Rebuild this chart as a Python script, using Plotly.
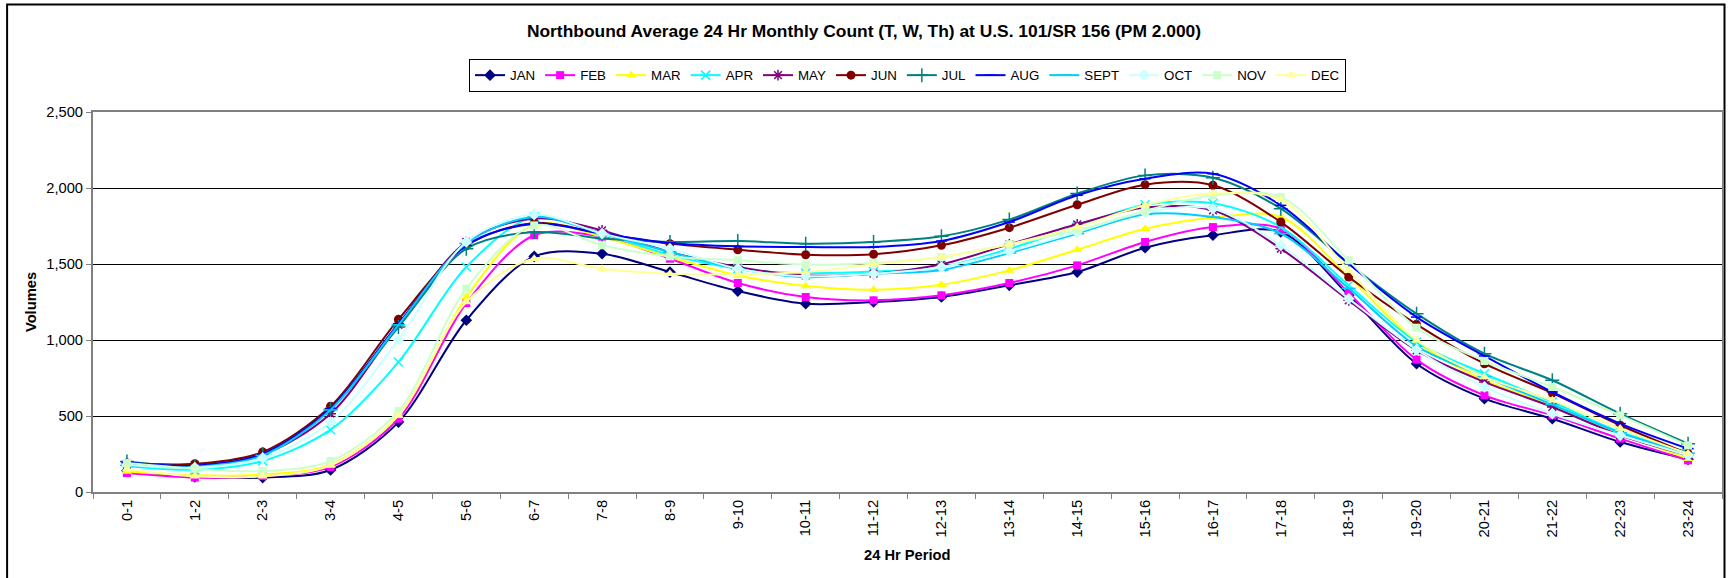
import plotly.graph_objects as go

periods = ["0-1", "1-2", "2-3", "3-4", "4-5", "5-6", "6-7", "7-8", "8-9", "9-10", "10-11", "11-12",
           "12-13", "13-14", "14-15", "15-16", "16-17", "17-18", "18-19", "19-20", "20-21", "21-22",
           "22-23", "23-24"]

jan = [140, 100, 95, 145, 460, 1130, 1550, 1568, 1447, 1322, 1239, 1250, 1283, 1360, 1447, 1607, 1689, 1711, 1294, 844, 614, 482, 329, 215]
feb = [125, 95, 105, 165, 482, 1243, 1689, 1680, 1535, 1375, 1283, 1261, 1294, 1375, 1491, 1645, 1743, 1732, 1309, 871, 636, 504, 351, 208]
mar = [135, 110, 115, 180, 504, 1283, 1760, 1678, 1546, 1425, 1355, 1331, 1364, 1458, 1594, 1732, 1805, 1809, 1414, 987, 735, 570, 384, 219]
apr = [170, 147, 204, 410, 855, 1480, 1810, 1700, 1560, 1469, 1440, 1450, 1480, 1600, 1748, 1890, 1900, 1743, 1360, 987, 778, 592, 395, 263]
may = [185, 175, 245, 515, 1100, 1645, 1800, 1721, 1579, 1480, 1425, 1436, 1498, 1629, 1761, 1871, 1853, 1601, 1261, 932, 724, 559, 373, 241]
jun = [190, 186, 263, 564, 1136, 1620, 1770, 1700, 1634, 1594, 1561, 1564, 1623, 1739, 1890, 2022, 2018, 1776, 1414, 1103, 844, 651, 439, 252]
jul = [200, 170, 250, 545, 1085, 1601, 1710, 1667, 1645, 1651, 1634, 1645, 1682, 1792, 1963, 2083, 2068, 1864, 1502, 1173, 910, 735, 515, 318]
aug = [195, 172, 250, 550, 1107, 1623, 1765, 1700, 1638, 1616, 1612, 1612, 1651, 1776, 1952, 2061, 2094, 1886, 1502, 1151, 895, 658, 450, 285]
sept = [175, 165, 240, 540, 1100, 1635, 1810, 1700, 1579, 1469, 1414, 1436, 1460, 1572, 1700, 1827, 1809, 1700, 1340, 960, 760, 575, 390, 255]
octo = [180, 160, 224, 460, 1002, 1645, 1825, 1700, 1601, 1469, 1420, 1436, 1480, 1583, 1710, 1840, 1864, 1623, 1272, 936, 691, 515, 373, 241]
nov = [190, 153, 138, 204, 533, 1338, 1754, 1623, 1550, 1524, 1496, 1507, 1546, 1629, 1722, 1849, 1952, 1941, 1524, 1081, 862, 691, 504, 307]
dec = [150, 103, 103, 175, 504, 1250, 1535, 1469, 1436, 1432, 1447, 1498, 1546, 1629, 1743, 1886, 1963, 1923, 1458, 998, 757, 603, 417, 252]

series = [
    ("JAN", jan, "#000080", "diamond", 9),
    ("FEB", feb, "#FF00FF", "square", 8),
    ("MAR", mar, "#FFFF00", "triangle-up", 9),
    ("APR", apr, "#00FFFF", "x-thin-open", 9),
    ("MAY", may, "#800080", "asterisk-open", 9),
    ("JUN", jun, "#800000", "circle", 9),
    ("JUL", jul, "#008080", "cross-thin-open", 10),
    ("AUG", aug, "#0000FF", "line-ew-open", 8),
    ("SEPT", sept, "#00CCFF", "line-ew-open", 10),
    ("OCT", octo, "#CCFFFF", "diamond", 9),
    ("NOV", nov, "#CCFFCC", "square", 8),
    ("DEC", dec, "#FFFF99", "triangle-up", 9),
]

FONT = "Arial, Liberation Sans, sans-serif"
TXT = 14.7

fig = go.Figure()
for name, vals, color, sym, size in series:
    marker = dict(symbol=sym, size=size, color=color, line=dict(color=color, width=1.5 if "open" in sym else 0))
    fig.add_trace(go.Scatter(
        x=periods, y=vals, name=name, mode="lines+markers",
        line=dict(color=color, width=2, shape="spline", smoothing=0.9),
        marker=marker,
    ))

W, H = 1728, 578
L, R, T, B = 93, 1724, 112, 492
fig.update_layout(
    width=W, height=H,
    margin=dict(l=L, r=W - R, t=T, b=H - B),
    paper_bgcolor="white", plot_bgcolor="white",
    font=dict(family=FONT, size=TXT, color="black"),
    title=dict(text="<b>Northbound Average 24 Hr Monthly Count (T, W, Th) at U.S. 101/SR 156 (PM 2.000)</b>",
               x=0.5, xref="container", xanchor="center",
               y=1 - 31 / H, yref="container", yanchor="middle",
               font=dict(family=FONT, size=17.4, color="black")),
    showlegend=True,
    legend=dict(orientation="h", x=0.5, xanchor="center", y=(B - 59) / (B - T), yanchor="top",
                bordercolor="black", borderwidth=1, bgcolor="white",
                font=dict(family=FONT, size=13.3), itemwidth=30, tracegroupgap=0),
    xaxis=dict(type="category", tickangle=-90, tickson="boundaries", ticks="outside", ticklen=5,
               tickcolor="#808080", showline=True, linecolor="#808080", linewidth=2, mirror=True,
               showgrid=False, range=[-0.5, 23.5], tickfont=dict(size=TXT)),
    yaxis=dict(range=[0, 2500], dtick=500, tickformat=",", ticks="outside", ticklen=5,
               tickcolor="#808080", showline=True, linecolor="#808080", linewidth=2, mirror=True,
               showgrid=True, gridcolor="black", gridwidth=1, zeroline=False,
               tickfont=dict(size=TXT)),
    annotations=[
        dict(text="<b>Volumes</b>", textangle=-90, xref="paper", yref="paper",
             x=(31 - L) / (R - L), y=0.5, xanchor="center", yanchor="middle", showarrow=False,
             font=dict(family=FONT, size=TXT)),
        dict(text="<b>24 Hr Period</b>", xref="paper", yref="paper",
             x=0.5, y=(B - 555) / (B - T), xanchor="center", yanchor="middle", showarrow=False,
             font=dict(family=FONT, size=TXT)),
    ],
    shapes=[dict(type="rect", xref="paper", yref="paper",
                 x0=(7 - L) / (R - L), x1=(1726.5 - L) / (R - L),
                 y0=(B - 640) / (B - T), y1=(B - 4.5) / (B - T),
                 line=dict(color="black", width=2), layer="below")],
)

fig.write_html("out.html", config={"displayModeBar": False},
               post_script="document.body.style.margin='0';document.body.style.overflow='hidden';")
